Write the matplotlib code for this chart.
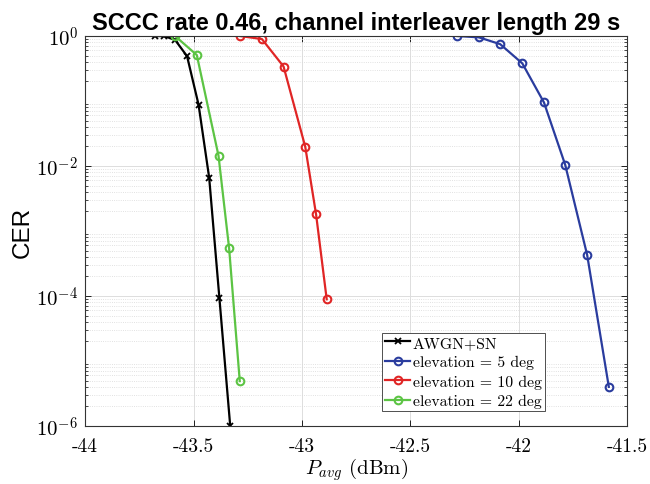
import matplotlib
matplotlib.use("Agg")
import matplotlib.pyplot as plt
import numpy as np
from matplotlib.ticker import LogLocator, NullFormatter

plt.rcParams['mathtext.fontset'] = 'cm'

# data
awgn_x = [-43.68, -43.635, -43.585, -43.53, -43.477, -43.428, -43.381, -43.331]
awgn_y = [1.0, 1.0, 0.87, 0.49, 0.088, 0.0066, 9.4e-5, 1.0e-6]

el5_x = [-42.283, -42.184, -42.086, -41.984, -41.884, -41.786, -41.685, -41.585]
el5_y = [1.0, 0.955, 0.75, 0.38, 0.095, 0.0104, 4.3e-4, 4.0e-6]

el10_x = [-43.285, -43.185, -43.085, -42.985, -42.935, -42.886]
el10_y = [1.0, 0.9, 0.34, 0.0198, 0.0018, 8.9e-5]

el22_x = [-43.585, -43.485, -43.385, -43.336, -43.287]
el22_y = [1.0, 0.51, 0.0144, 5.4e-4, 4.9e-6]

xticks = [-44, -43.5, -43, -42.5, -42, -41.5]
xtick_labels = ['-44', '-43.5', '-43', '-42.5', '-42', '-41.5']
yticks = [1e-6, 1e-4, 1e-2, 1e0]
ytick_labels = [r'$10^{-6}$', r'$10^{-4}$', r'$10^{-2}$', r'$10^{0}$']

fig = plt.figure(figsize=(6.5, 4.85), dpi=100)
ax = fig.add_axes([0.131, 0.1196, 0.834, 0.804])

lw = 1.6
ms = 5.5
ax.plot(awgn_x, awgn_y, color='black', lw=lw, marker='x', markersize=4, mew=1.3, label='AWGN+SN')
ax.plot(el5_x, el5_y, color='#2a3c9e', lw=lw, marker='o', markersize=ms, mfc='none', mew=1.5,
        label='elevation = 5 deg')
ax.plot(el10_x, el10_y, color='#e02525', lw=lw, marker='o', markersize=ms, mfc='none', mew=1.5,
        label='elevation = 10 deg')
ax.plot(el22_x, el22_y, color='#5cc444', lw=lw, marker='o', markersize=ms, mfc='none', mew=1.5,
        label='elevation = 22 deg')

ax.set_yscale('log')
ax.set_xlim(-44, -41.5)
ax.set_ylim(1e-6, 1)
ax.set_xticks(xticks, xtick_labels, fontfamily='cmr10', fontsize=14)
ax.set_yticks(yticks, ytick_labels, fontsize=15)
ax.yaxis.set_minor_locator(LogLocator(base=10, subs=np.arange(2, 10), numticks=20))
ax.yaxis.set_minor_formatter(NullFormatter())

ax.tick_params(which='both', direction='in', top=True, right=True)
ax.tick_params(which='major', length=4, width=0.6)
ax.tick_params(which='minor', length=2, width=0.5)
ax.tick_params(axis='x', which='major', pad=8)
ax.tick_params(axis='y', which='major', pad=5)

ax.grid(which='major', axis='both', color='#dddddd', lw=0.7)
ax.grid(which='minor', axis='y', color='#d8d8d8', lw=0.6, linestyle=':')
ax.set_axisbelow(True)
for s in ax.spines.values():
    s.set_linewidth(0.8)
    s.set_color('#333333')

ax.set_title('SCCC rate 0.46, channel interleaver length 29 s', fontfamily='Liberation Sans',
             fontweight='bold', fontsize=17, pad=5)
ax.set_ylabel('CER', fontfamily='Liberation Sans', fontsize=17.5, labelpad=2)
ax.set_xlabel(r'$P_{avg}$ (dBm)', fontfamily='cmr10', fontsize=15, labelpad=0)

leg = ax.legend(loc='lower left', bbox_to_anchor=(0.548, 0.038), prop={'family': 'cmr10', 'size': 11.3},
                frameon=True, fancybox=False, edgecolor='#333333', framealpha=1,
                borderpad=0.2, labelspacing=0.33, handlelength=1.55, handletextpad=0.2,
                borderaxespad=0)
leg.get_frame().set_linewidth(0.6)

fig.savefig('out.png', dpi=100)
